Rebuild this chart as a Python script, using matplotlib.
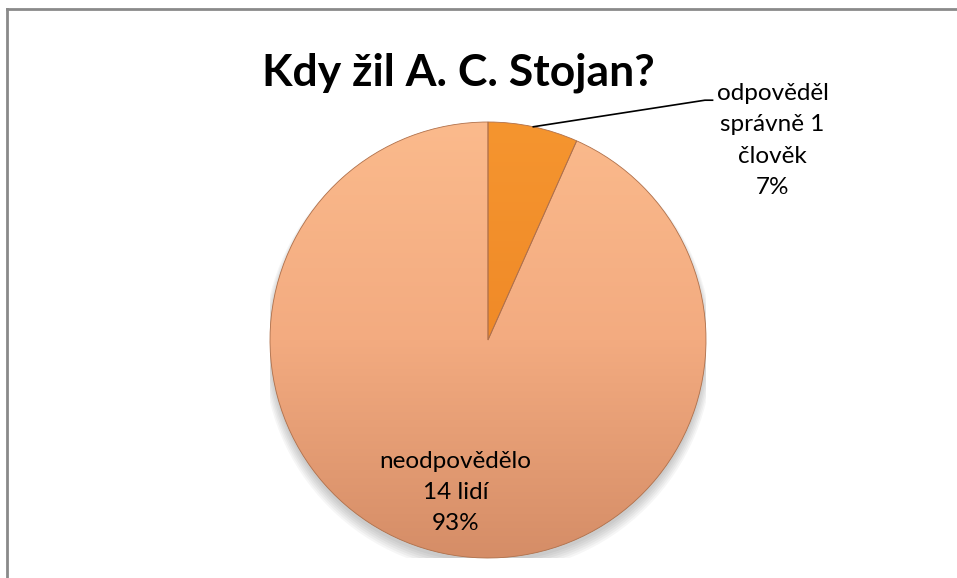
import numpy as np
import matplotlib
matplotlib.use("Agg")
import matplotlib.pyplot as plt
from matplotlib.patches import Circle
from matplotlib.colors import LinearSegmentedColormap

plt.rcParams['font.family'] = ['Lato', 'DejaVu Sans']

title = "Kdy žil A. C. Stojan?"
labels = ["odpověděl\nsprávně 1\nčlověk", "neodpovědělo\n14 lidí"]
counts = [1, 14]
top_colors = ["#F5952F", "#FBBA8C"]
mid_colors = ["#F08A28", "#F3AB80"]
bottom_colors = ["#DE7A22", "#D58D67"]

W, H = 957, 578
fig = plt.figure(figsize=(W / 100, H / 100), dpi=100)

# frame (top and left edges visible)
fig.add_artist(plt.Line2D([7 / W, 7 / W], [0, 1 - 9 / H], color="#8a8a8a", lw=2))
fig.add_artist(plt.Line2D([7 / W, 1], [1 - 9 / H, 1 - 9 / H], color="#8a8a8a", lw=2))

cx, cy, r = 488, 340, 218
ax = fig.add_axes([(cx - r) / W, (H - cy - r) / H, 2 * r / W, 2 * r / H])

# soft shadow
for k in range(6):
    ax.add_patch(Circle((0, -0.02 - 0.004 * k), 1.0 + 0.006 * k, color="black",
                        alpha=0.035, lw=0, zorder=0))

wedges, _ = ax.pie(counts, startangle=90, counterclock=False, radius=1,
                   wedgeprops=dict(edgecolor="#b0704a", linewidth=0.6))
ax.set_xlim(-1, 1)
ax.set_ylim(-1, 1)
ax.set_aspect("equal")
ax.axis("off")

for w, c0, cm, c1 in zip(wedges, top_colors, mid_colors, bottom_colors):
    cmap = LinearSegmentedColormap.from_list("g", [c0, cm, c1])
    grad = np.linspace(0, 1, 256).reshape(-1, 1)
    im = ax.imshow(grad, cmap=cmap, extent=[-1, 1, -1, 1], origin="upper",
                   aspect="auto", zorder=2)
    im.set_clip_path(w)
    w.set_zorder(3)
    w.set_facecolor("none")

total = sum(counts)
# big slice label inside
ang = np.deg2rad(90 - 360 * counts[0] / total - 360 * counts[1] / total / 2)
ax.text(0.72 * np.cos(ang), 0.715 * np.sin(ang),
        f"{labels[1]}\n{round(100 * counts[1] / total)}%",
        ha="center", va="center", fontsize=17.5, linespacing=1.6, zorder=5)

# small slice label outside with leader
ang0 = np.deg2rad(90 - 360 * counts[0] / total / 2)
p0 = (np.cos(ang0), np.sin(ang0))
ax.plot([p0[0], 0.995, 1.03], [p0[1], 1.10, 1.10], color="black", lw=1.2,
        clip_on=False, zorder=5)
ax.text(1.305, 0.915, f"{labels[0]}\n{round(100 * counts[0] / total)}%",
        ha="center", va="center", fontsize=17.5, linespacing=1.6, clip_on=False, zorder=5)

fig.text(458 / W, 1 - 73 / H, title, ha="center", va="center",
         fontsize=32, fontweight="bold")

fig.savefig("out.png", dpi=100)
